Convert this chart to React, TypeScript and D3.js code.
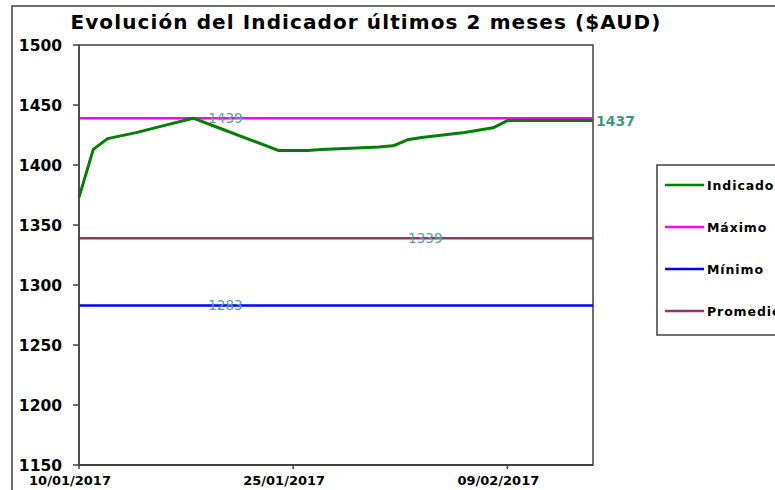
import React from 'react';
import * as d3 from 'd3';

// Indicator values (dd/mm/yyyy)
const dates = [
  '10/01/2017', '11/01/2017', '12/01/2017', '14/01/2017', '16/01/2017', '18/01/2017',
  '20/01/2017', '22/01/2017', '24/01/2017', '26/01/2017', '27/01/2017', '29/01/2017',
  '31/01/2017', '01/02/2017', '02/02/2017', '03/02/2017', '06/02/2017', '08/02/2017',
  '09/02/2017', '15/02/2017',
];
const indicador = [
  1373, 1413, 1422, 1427, 1433, 1439,
  1430, 1421, 1412, 1412, 1413, 1414,
  1415, 1416, 1421, 1423, 1427, 1431,
  1437, 1437,
];

const maximo = 1439;
const minimo = 1283;
const promedio = 1339;

const yTicks = [1150, 1200, 1250, 1300, 1350, 1400, 1450, 1500];
const xTickLabels = ['10/01/2017', '25/01/2017', '09/02/2017'];
const axisStart = '10/01/2017';
const axisEnd = '15/02/2017';

// where each data label sits (date, value, text)
const labels = [
  { date: '18/01/2017', value: maximo, text: '1439', bold: false },
  { date: '01/02/2017', value: promedio, text: '1339', bold: false },
  { date: '18/01/2017', value: minimo, text: '1283', bold: false },
  { date: '15/02/2017', value: 1437, text: '1437', bold: true },
];

const legendItems = [
  { name: 'Indicador', color: '#008000' },
  { name: 'Máximo', color: '#ff00ff' },
  { name: 'Mínimo', color: '#0000ff' },
  { name: 'Promedio', color: '#993366' },
];

const parse = d3.timeParse('%d/%m/%Y');

export default function App() {
  const width = 775;
  const height = 490;
  const plot = { left: 79, right: 593, top: 45, bottom: 465 };

  const x = d3.scaleTime()
    .domain([parse(axisStart)!, parse(axisEnd)!])
    .range([plot.left, plot.right]);
  const y = d3.scaleLinear()
    .domain([1150, 1500])
    .range([plot.bottom, plot.top]);

  const series = dates.map((d, i) => ({ date: parse(d)!, value: indicador[i] }));
  const line = d3.line<{ date: Date; value: number }>()
    .x(d => x(d.date))
    .y(d => y(d.value));

  const font = 'DejaVu Sans, Verdana, sans-serif';
  const hLines = [
    { v: promedio, color: '#993366' },
    { v: minimo, color: '#0000ff' },
    { v: maximo, color: '#ff00ff' },
  ];

  return (
    <svg width={width} height={height} style={{ position: 'absolute', left: 0, top: 0, background: '#fff' }}
      fontFamily={font}>
      <rect x={12} y={6} width={width} height={height} fill="#fff" stroke="#404040" strokeWidth={1.5} />
      <text x={366} y={29} textAnchor="middle" fontSize={20} fontWeight="bold" letterSpacing={1.1} fill="#000">
        Evolución del Indicador últimos 2 meses ($AUD)
      </text>

      {/* plot frame */}
      <rect x={plot.left} y={plot.top} width={plot.right - plot.left} height={plot.bottom - plot.top}
        fill="#fff" stroke="#404040" strokeWidth={1.5} />

      {yTicks.map(t => (
        <g key={t}>
          <line x1={plot.left - 6} x2={plot.left} y1={y(t)} y2={y(t)} stroke="#404040" strokeWidth={1.5} />
          <text x={62} y={y(t)} dy="0.36em" textAnchor="end" fontSize={15.5} fontWeight="bold" fill="#000">{t}</text>
        </g>
      ))}

      {xTickLabels.map(t => {
        const px = x(parse(t)!);
        return (
          <g key={t}>
            <line x1={px} x2={px} y1={plot.bottom} y2={plot.bottom + 4} stroke="#404040" strokeWidth={1.5} />
            <text x={px - 9} y={485} textAnchor="middle" fontSize={13} fontWeight="bold" fill="#000">{t}</text>
          </g>
        );
      })}

      {hLines.map(h => (
        <line key={h.v} x1={plot.left} x2={plot.right} y1={y(h.v)} y2={y(h.v)} stroke={h.color} strokeWidth={2.5} />
      ))}

      <path d={line(series) ?? ''} fill="none" stroke="#008000" strokeWidth={3} strokeLinejoin="round" />

      <line x1={plot.left} x2={plot.left} y1={plot.top} y2={plot.bottom} stroke="#404040" strokeWidth={1.5} />
      <line x1={plot.left} x2={plot.right} y1={plot.bottom} y2={plot.bottom} stroke="#404040" strokeWidth={2} />

      {labels.map(l => (
        <text key={l.text} x={x(parse(l.date)!) + (l.bold ? 3 : 15)} y={y(l.value)} dy="0.36em"
          fontSize={l.bold ? 14 : 13.5} fontWeight={l.bold ? 'bold' : 'normal'}
          fill={l.bold ? '#3d9a82' : '#5a9eaa'}>{l.text}</text>
      ))}

      {/* legend (runs past the right edge, as in the reference) */}
      <rect x={657} y={165} width={140} height={170} fill="#fff" stroke="#404040" strokeWidth={1.5} />
      {legendItems.map((item, i) => {
        const ly = 185 + i * 42;
        return (
          <g key={item.name}>
            <line x1={665} x2={704} y1={ly} y2={ly} stroke={item.color} strokeWidth={2.5} />
            <text x={707} y={ly} dy="0.36em" fontSize={12.5} fontWeight="bold" letterSpacing={0.9} fill="#000">{item.name}</text>
          </g>
        );
      })}
    </svg>
  );
}
